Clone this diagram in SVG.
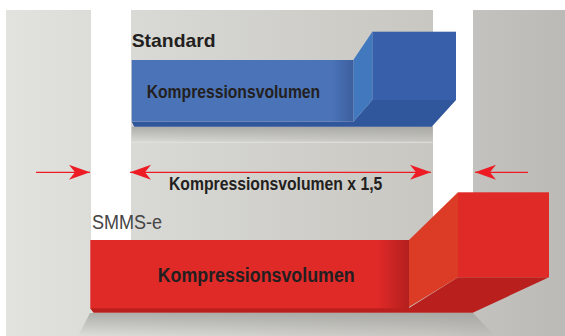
<svg xmlns="http://www.w3.org/2000/svg" width="565" height="336" viewBox="0 0 565 336">
<defs>
<linearGradient id="bg" gradientUnits="userSpaceOnUse" x1="6" y1="0" x2="565" y2="0">
<stop offset="0" stop-color="#e2e2df"/>
<stop offset="0.15" stop-color="#dcdcd8"/>
<stop offset="0.23" stop-color="#d9d9d5"/>
<stop offset="0.76" stop-color="#c8c7c2"/>
<stop offset="0.83" stop-color="#c3c2be"/>
<stop offset="1" stop-color="#bbbab6"/>
</linearGradient>
<linearGradient id="blueFront" x1="0" y1="0" x2="1" y2="0">
<stop offset="0" stop-color="#4b74b8"/>
<stop offset="0.9" stop-color="#4b74b8"/>
<stop offset="1" stop-color="#3d5f9f"/>
</linearGradient>
<linearGradient id="redFront" x1="0" y1="0" x2="1" y2="0">
<stop offset="0" stop-color="#e02a28"/>
<stop offset="0.9" stop-color="#e02a28"/>
<stop offset="1" stop-color="#b31f1e"/>
</linearGradient>
<linearGradient id="shadow" x1="0" y1="0" x2="0" y2="1">
<stop offset="0" stop-color="#9e9e9a" stop-opacity="0.75"/>
<stop offset="1" stop-color="#9e9e9a" stop-opacity="0"/>
</linearGradient>
<marker id="head" markerUnits="userSpaceOnUse" markerWidth="22" markerHeight="16" refX="21" refY="7.5" orient="auto-start-reverse" viewBox="0 0 22 16">
<path d="M0,0 L21,7.5 L0,15 L6,7.5 Z" fill="#ed1c24"/>
</marker>
<style>
.bold{font-family:"Liberation Sans",Arial,sans-serif;font-weight:bold;fill:#231f20}
.reg{font-family:"Liberation Sans",Arial,sans-serif;fill:#454545}
.arrow{stroke:#ed1c24;stroke-width:1.2;fill:none}
</style>
</defs>

<g id="background">
<rect x="0" y="0" width="565" height="336" fill="#ffffff"/>
<rect x="6" y="10" width="559" height="326" fill="url(#bg)"/>
<rect x="91" y="10" width="40" height="230" fill="#ffffff"/>
<rect x="433" y="10" width="40" height="230" fill="#ffffff"/>
</g>

<g id="standard-box">
<rect x="131.7" y="126.7" width="301" height="15.3" fill="url(#shadow)"/>
<line x1="131.7" y1="142.3" x2="432.7" y2="142.3" stroke="#e2e2de" stroke-width="1"/>
<polygon points="131.7,121.7 353.3,121.7 372.3,100 456,100 431.7,126.7 134.2,126.7" fill="#30569c"/>
<rect x="372.3" y="31.7" width="83.7" height="68.3" fill="#3860aa"/>
<polygon points="353.3,60 372.3,31.7 372.3,100 353.3,121.7" fill="#4279be"/>
<rect x="131.7" y="60" width="221.6" height="61.7" fill="url(#blueFront)"/>
<text class="bold" x="131.7" y="47.3" font-size="18.5" textLength="84" lengthAdjust="spacingAndGlyphs">Standard</text>
<text class="bold" x="146.7" y="98.3" font-size="18.6" textLength="173.5" lengthAdjust="spacingAndGlyphs">Kompressionsvolumen</text>
</g>

<g id="smms-box">
<polygon points="90,313 473,313 495,336 78,336" fill="url(#shadow)"/>
<polygon points="90,308 409,308 458,277.3 549,277.3 472.7,312.7 93.5,312.7" fill="#b9201d"/>
<rect x="458" y="192.3" width="91" height="85" fill="#e02a28"/>
<polygon points="409,240 458,192.3 458,277.3 409,307" fill="#dc3b25"/>
<rect x="90.3" y="240" width="318.7" height="68.3" fill="url(#redFront)"/>
<text class="reg" x="92" y="229.3" font-size="19.5" textLength="70" lengthAdjust="spacingAndGlyphs">SMMS-e</text>
<text class="bold" x="157.7" y="281.7" font-size="20" textLength="197" lengthAdjust="spacingAndGlyphs">Kompressionsvolumen</text>
</g>

<g id="connectors">
<line class="arrow" x1="36" y1="172.3" x2="90" y2="172.3" marker-end="url(#head)"/>
<line class="arrow" x1="130" y1="172.3" x2="431" y2="172.3" marker-start="url(#head)" marker-end="url(#head)"/>
<line class="arrow" x1="528" y1="172.3" x2="475" y2="172.3" marker-end="url(#head)"/>
</g>

<g id="dimension-label">
<text class="bold" x="169" y="190" font-size="19" textLength="213.3" lengthAdjust="spacingAndGlyphs">Kompressionsvolumen x 1,5</text>
</g>
</svg>
